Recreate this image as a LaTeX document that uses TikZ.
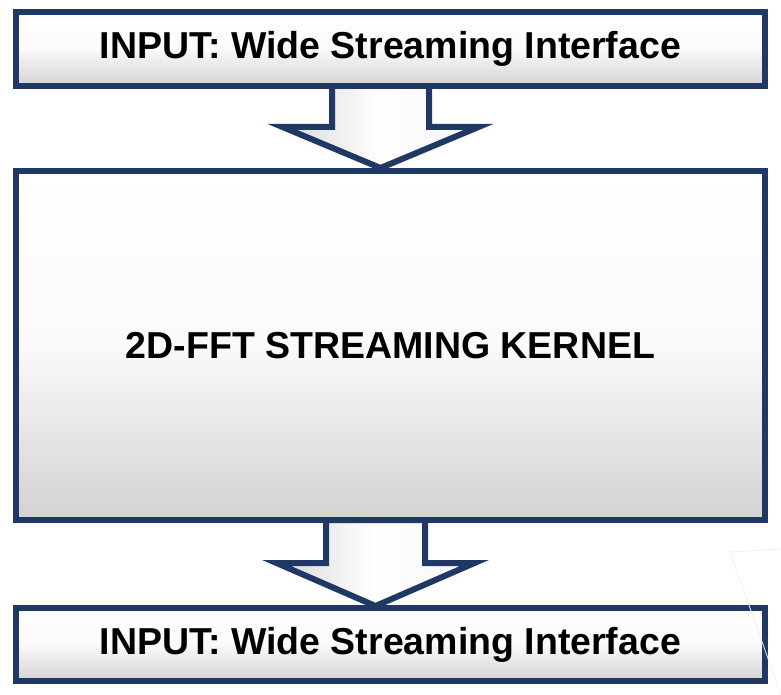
\documentclass[tikz,border=0pt]{standalone}
\usepackage{fontspec}
\setmainfont{Liberation Sans}
\usetikzlibrary{positioning,calc,backgrounds}

\definecolor{navy}{RGB}{31,56,100}

\begin{document}
\begin{tikzpicture}[x=1pt,y=-1pt,
    stagebox/.style={draw=navy, line width=6pt, outer sep=0pt, inner sep=0pt,
      top color=white, bottom color=gray!35, middle color=white!96!gray,
      font=\fontsize{37.5}{44}\selectfont\bfseries, minimum width=749pt},
    blockarrow/.style={draw=navy, line width=6pt, line join=miter,
      left color=gray!30, right color=white!92!gray, middle color=white}]
    \useasboundingbox (0,0) rectangle (781,695);
    % the three stages
    \node[stagebox, minimum height=74pt] (inTop) at (390.5,49) {INPUT: Wide Streaming Interface};
    \node[stagebox, minimum height=349pt, below=85pt of inTop] (kernel) {2D-FFT STREAMING KERNEL};
    \node[stagebox, minimum height=73pt, below=88pt of kernel] (inBottom) {INPUT: Wide Streaming Interface};
    % block arrows between the stages
    \begin{pgfonlayer}{background}
      \filldraw[blockarrow] ($(inTop.south)+(-58.5,0)$) -- ++(0,41) -- ++(-49.5,0)
        -- ($(kernel.north)+(-10,-3)$) -- ++(98,-41) -- ++(-49.5,0) -- ++(0,-41) -- cycle;
      \filldraw[blockarrow] ($(kernel.south)+(-64.5,0)$) -- ++(0,43) -- ++(-49.5,0)
        -- ($(inBottom.north)+(-15,-2)$) -- ++(99,-43) -- ++(-49.5,0) -- ++(0,-43) -- cycle;
    \end{pgfonlayer}
    % faint edge at the right
    \draw[gray!12, line width=0.8pt] (781,549) -- (730,552) -- (781,695);
\end{tikzpicture}
\end{document}
